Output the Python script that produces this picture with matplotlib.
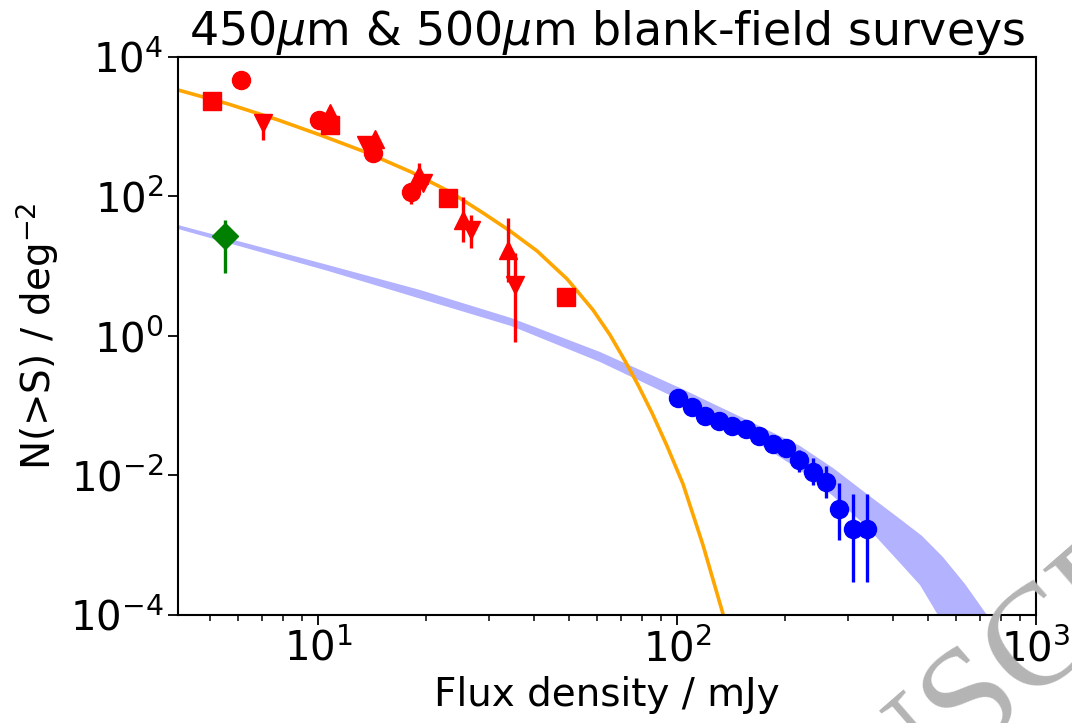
import numpy as np
import matplotlib
matplotlib.use("Agg")
import matplotlib.pyplot as plt
from matplotlib.ticker import NullLocator

# 450um counts (red), by survey marker
sq_x = [5.07, 10.8, 23.0, 49.1]
sq_y = [2340, 1059, 95, 3.6]
sq_lo = [2150, 980, 86, 2.97]
sq_hi = [2550, 1150, 104, 4.2]

ci_x = [6.10, 10.06, 14.2, 18.2]
ci_y = [4680, 1250, 421, 116]
ci_lo = [4300, 1150, 380, 78]
ci_hi = [5100, 1350, 465, 150]

up_x = [10.8, 14.4, 19.1, 25.4, 33.8]
up_y = [1575, 667, 203, 46, 17.1]
up_lo = [1450, 600, 124, 22, 5.9]
up_hi = [1700, 740, 302, 98, 49]

dn_x = [7.03, 13.6, 19.6, 26.7, 35.4]
dn_y = [1133, 547, 156, 33, 5.4]
dn_lo = [646, 500, 130, 18.3, 0.82]
dn_hi = [1250, 600, 185, 54, 15.5]

# green diamond
gr_x = [5.51]
gr_y = [27.2]
gr_lo = [8.0]
gr_hi = [46]

# 500um counts (blue)
bl_x = [100.6, 110, 119.7, 131, 142, 155.6, 169, 184.6, 201, 219, 239, 260, 283, 309, 338]
bl_y = [0.129, 0.096, 0.0713, 0.0604, 0.0513, 0.0464, 0.0368, 0.0283, 0.0248,
        0.0167, 0.0112, 0.0081, 0.0033, 0.00171, 0.00171]
bl_lo = [0.12, 0.089, 0.066, 0.056, 0.047, 0.042, 0.033, 0.025, 0.022,
         0.0112, 0.0073, 0.00475, 0.00119, 0.000297, 0.000297]
bl_hi = [0.138, 0.103, 0.077, 0.065, 0.056, 0.051, 0.041, 0.032, 0.028,
         0.0232, 0.0178, 0.0136, 0.0078, 0.0055, 0.0055]

# orange model curve
mod_x = [4.07, 5.62, 7.74, 10.13, 13.52, 18.16, 23.32, 28.82, 34.26, 40.74, 49.39,
         58.34, 65.07, 71.65, 77.88, 85.19, 93.78, 103.9, 118.1, 134.3]
mod_y = [3365, 2120, 1250, 762, 435, 224.5, 116.0, 58.0, 32.0, 16.55, 6.566,
         2.359, 1.033, 0.4381, 0.1984, 0.0787, 0.02648, 0.00755, 0.001008, 1.033e-4]

# blue model band edges
band_up_x = [4.07, 10.66, 19.24, 34.5, 61.0, 102, 156.7, 220.1, 272, 338, 418, 481.4, 550, 634.2, 730]
band_up_y = [39.0, 10.4, 4.565, 1.81, 0.59, 0.1795, 0.0625, 0.0265, 0.0128, 0.00543,
             0.00238, 0.001358, 6.8e-4, 2.78e-4, 1e-4]
band_lo_x = [4.07, 10.66, 34.5, 61.0, 102, 156.7, 178.1, 220.1, 272, 338, 418, 475.2, 533]
band_lo_y = [34.2, 8.55, 1.39, 0.424, 0.1208, 0.0368, 0.02399, 0.0120, 0.00508, 0.00183,
             5.57e-4, 2.69e-4, 1e-4]

yticks = [1e-4, 1e-2, 1e0, 1e2, 1e4]

plt.rcParams['font.family'] = ['DejaVu Sans']

fig = plt.figure(figsize=(10.72, 7.23), dpi=100)
ax = fig.add_axes([0.166, 0.1494, 0.8004, 0.7718])

ax.fill(list(band_up_x) + band_lo_x[::-1], list(band_up_y) + band_lo_y[::-1],
        color='blue', alpha=0.3, lw=0, zorder=1)
ax.plot(mod_x, mod_y, color='orange', lw=2.6, zorder=2)


def errpts(x, y, lo, hi, fmt, color):
    y = np.array(y)
    err = [y - np.array(lo), np.array(hi) - y]
    ax.errorbar(x, y, yerr=err, fmt=fmt, color=color, ms=13, elinewidth=2.4,
                capsize=0, zorder=3)


errpts(sq_x, sq_y, sq_lo, sq_hi, 's', 'red')
errpts(ci_x, ci_y, ci_lo, ci_hi, 'o', 'red')
errpts(up_x, up_y, up_lo, up_hi, '^', 'red')
errpts(dn_x, dn_y, dn_lo, dn_hi, 'v', 'red')
errpts(gr_x, gr_y, gr_lo, gr_hi, 'D', 'green')
errpts(bl_x, bl_y, bl_lo, bl_hi, 'o', 'blue')

ax.set_xscale('log')
ax.set_yscale('log')
ax.set_xlim(4.07, 1000)
ax.set_ylim(1e-4, 1e4)
ax.set_yticks(yticks)
ax.yaxis.set_minor_locator(NullLocator())
ax.tick_params(which='major', length=7, width=1.3, labelsize=29)
ax.tick_params(which='minor', length=4.5, width=1.1)
for s in ax.spines.values():
    s.set_linewidth(1.5)

ax.set_xlabel('Flux density / mJy', fontsize=28, labelpad=4)
ax.set_ylabel('N(>S) / deg$^{-2}$', fontsize=28, labelpad=6)
ax.set_title(r'450$\mu$m & 500$\mu$m blank-field surveys', fontsize=33, pad=6)

# grey watermark, only partly inside the frame
fig.text(0.899, 0.0124, 'MANUSCRIPT', rotation=41, fontsize=104,
         family='Liberation Serif', color='#b4b4b4', ha='center', va='center',
         rotation_mode='anchor', zorder=0)

fig.savefig('out.png', dpi=100)
